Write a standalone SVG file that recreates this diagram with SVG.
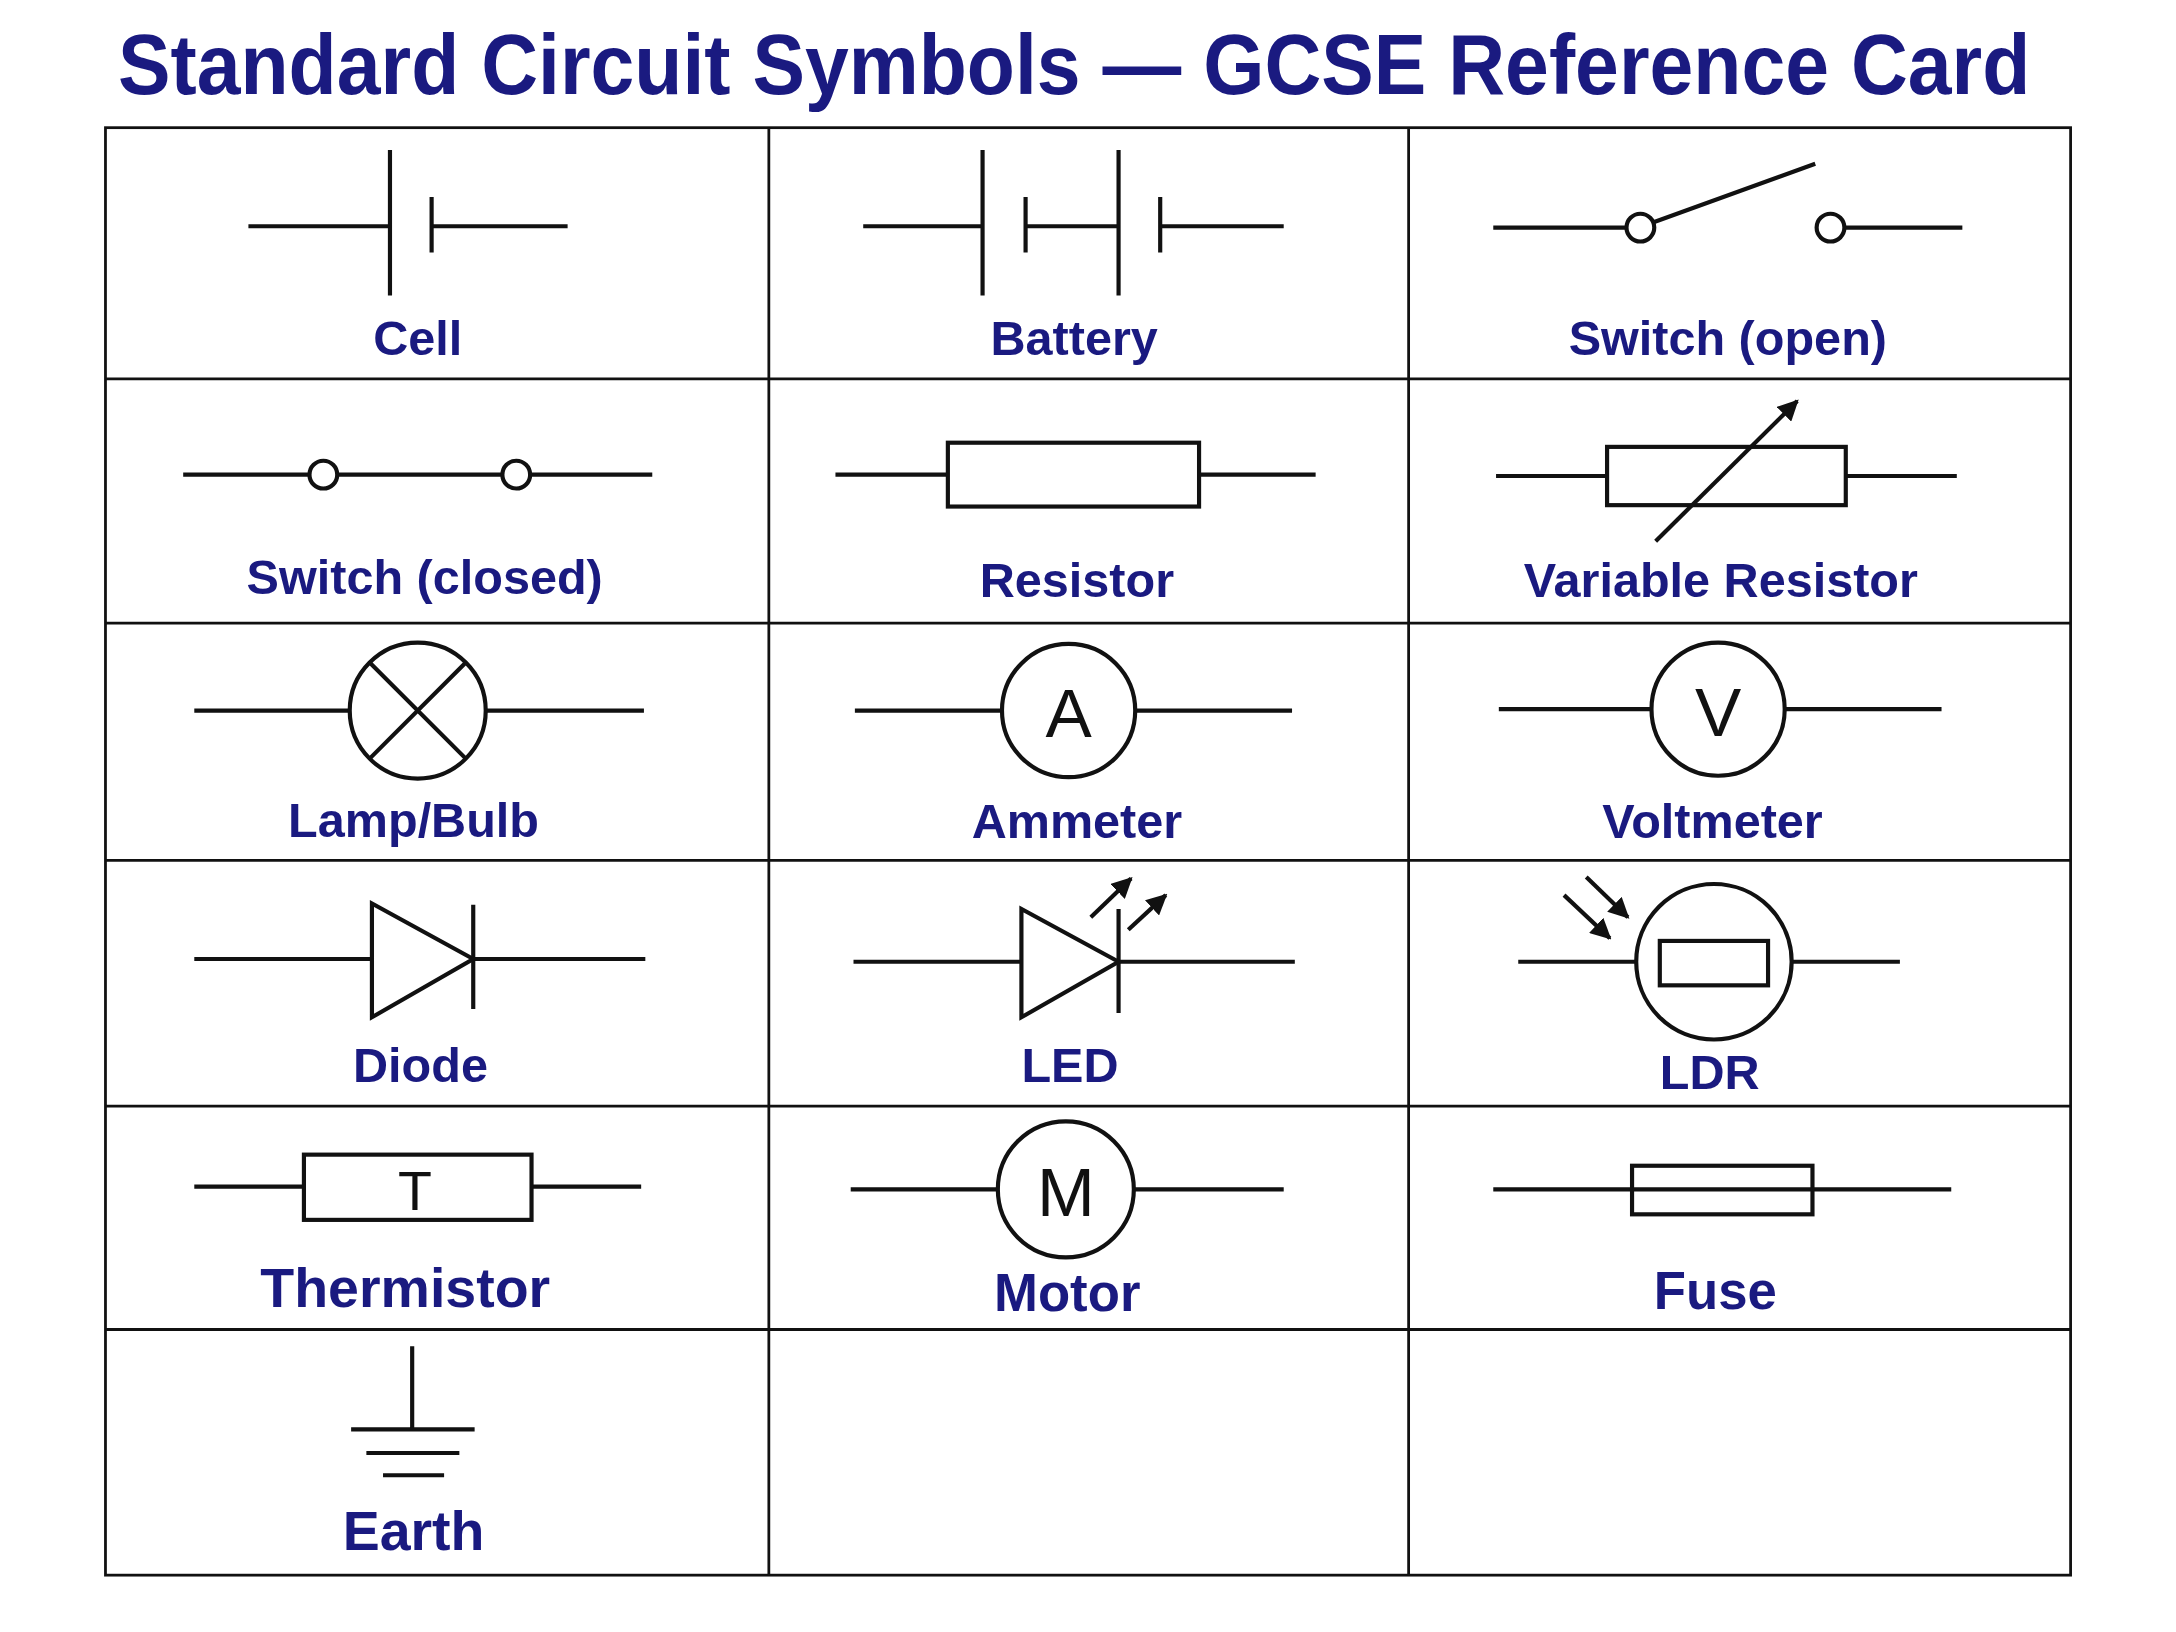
<svg xmlns="http://www.w3.org/2000/svg" width="2176" height="1632" viewBox="0 0 2176 1632">
<style>
.s{stroke:#111;stroke-width:3;fill:none}
.f{stroke:#111;stroke-width:3;fill:#fff}
.g{stroke:#111;stroke-width:2;fill:none}
.l{font-family:"Liberation Sans",Arial,sans-serif;font-weight:bold;font-size:35px;fill:#1a1a80;text-anchor:middle}
.m{font-family:"Liberation Sans",Arial,sans-serif;font-size:50px;fill:#111;text-anchor:middle}
</style>
<defs><marker id="ah" viewBox="0 0 10 10" refX="9" refY="5" markerWidth="5" markerHeight="5" orient="auto"><path d="M0,0L10,5L0,10z" fill="#111"/></marker></defs>
<rect width="2176" height="1632" fill="#fff"/>
<g transform="scale(1.3878)">
<text x="774" y="68" textLength="1378" lengthAdjust="spacingAndGlyphs" style="font-family:'Liberation Sans',Arial,sans-serif;font-weight:bold;font-size:62px;fill:#1a1a80;text-anchor:middle">Standard Circuit Symbols — GCSE Reference Card</text>
<g id="grid" class="g">
<rect x="76" y="92" width="1416" height="1043"/>
<line x1="554" y1="92" x2="554" y2="1135"/><line x1="1015" y1="92" x2="1015" y2="1135"/>
<line x1="76" y1="273" x2="1492" y2="273"/><line x1="76" y1="449" x2="1492" y2="449"/><line x1="76" y1="620" x2="1492" y2="620"/><line x1="76" y1="797" x2="1492" y2="797"/><line x1="76" y1="958" x2="1492" y2="958"/>
</g>
<g id="cell" class="s"><path d="M179,163H281M311,163H409M281,108V213M311,142V182"/><text class="l" x="301" y="256" stroke="none">Cell</text></g>
<g id="battery" class="s"><path d="M622,163H708M739,163H806M836,163H925M708,108V213M739,142V182M806,108V213M836,142V182"/><text class="l" x="774" y="256" stroke="none">Battery</text></g>
<g id="switch-open" class="s"><path d="M1076,164H1172M1192,160L1308,118M1329,164H1414"/><circle cx="1182" cy="164" r="10"/><circle cx="1319" cy="164" r="10"/><text class="l" x="1245" y="256" stroke="none">Switch (open)</text></g>
<g id="switch-closed" class="s"><path d="M132,342H223M243,342H362M382,342H470"/><circle cx="233" cy="342" r="10"/><circle cx="372" cy="342" r="10"/><text class="l" x="306" y="428" stroke="none">Switch (closed)</text></g>
<g id="resistor" class="s"><path d="M602,342H683M864,342H948"/><rect x="683" y="319" width="181" height="46"/><text class="l" x="776" y="430" stroke="none">Resistor</text></g>
<g id="variable-resistor" class="s"><path d="M1078,343H1158M1330,343H1410"/><rect x="1158" y="322" width="172" height="42"/><line x1="1193" y1="390" x2="1295" y2="289" marker-end="url(#ah)"/><text class="l" x="1240" y="430" stroke="none">Variable Resistor</text></g>
<g id="lamp" class="s"><path d="M140,512H252M350,512H464M266,477L336,547M336,477L266,547"/><circle cx="301" cy="512" r="49"/><text class="l" x="298" y="603" stroke="none">Lamp/Bulb</text></g>
<g id="ammeter" class="s"><path d="M616,512H722M818,512H931"/><circle cx="770" cy="512" r="48"/><text class="m" x="770" y="531" stroke="none">A</text><text class="l" x="776" y="604" stroke="none">Ammeter</text></g>
<g id="voltmeter" class="s"><path d="M1080,511H1190M1286,511H1399"/><circle cx="1238" cy="511" r="48"/><text class="m" x="1238" y="530" stroke="none">V</text><text class="l" x="1234" y="604" stroke="none">Voltmeter</text></g>
<g id="diode" class="s"><path d="M140,691H268M341,691H465M341,652V727"/><path d="M268,651L268,733L341,691Z"/><text class="l" x="303" y="780" stroke="none">Diode</text></g>
<g id="led" class="s"><path d="M615,693H736M806,693H933M806,655V730"/><path d="M736,655L736,733L806,693Z"/><line x1="786" y1="661" x2="815" y2="633" marker-end="url(#ah)"/><line x1="813" y1="670" x2="840" y2="645" marker-end="url(#ah)"/><text class="l" x="771" y="780" stroke="none">LED</text></g>
<g id="ldr" class="s"><path d="M1094,693H1180M1291,693H1369"/><circle cx="1235" cy="693" r="56"/><rect x="1196" y="678" width="78" height="32"/><line x1="1127" y1="645" x2="1160" y2="676" marker-end="url(#ah)"/><line x1="1143" y1="632" x2="1173" y2="661" marker-end="url(#ah)"/><text class="l" x="1232" y="785" stroke="none">LDR</text></g>
<g id="thermistor" class="s"><path d="M140,855H219M383,855H462"/><rect x="219" y="832" width="164" height="47"/><text class="m" x="299" y="872" style="font-size:40px" stroke="none">T</text><text class="l" x="292" y="942" style="font-size:40px" stroke="none">Thermistor</text></g>
<g id="motor" class="s"><path d="M613,857H720M817,857H925"/><circle cx="768" cy="857" r="49"/><text class="m" x="768" y="876" stroke="none">M</text><text class="l" x="769" y="945" style="font-size:38px" stroke="none">Motor</text></g>
<g id="fuse" class="s"><path d="M1076,857H1176M1306,857H1406"/><rect x="1176" y="840" width="130" height="35"/><line x1="1176" y1="857" x2="1306" y2="857"/><text class="l" x="1236" y="943" style="font-size:38px" stroke="none">Fuse</text></g>
<g id="earth" class="s"><path d="M297,970V1030M253,1030H342M264,1047H331M276,1063H320"/><text class="l" x="298" y="1117" style="font-size:40px" stroke="none">Earth</text></g>
</g>
</svg>
